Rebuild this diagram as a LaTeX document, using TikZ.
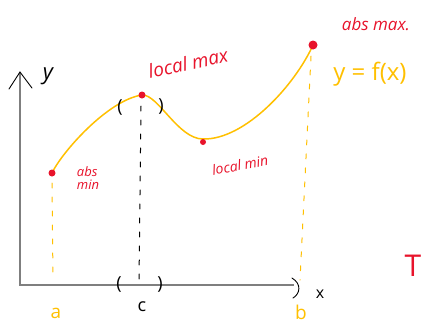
\documentclass[tikz,border=0pt]{standalone}
\usepackage{fontspec}
\setmainfont{Open Sans}
\begin{document}
\begin{tikzpicture}[x=1pt,y=-1pt,
  axis/.style={draw=axisgray,line width=1.3pt},
  ink/.style={draw=black,line width=0.9pt,line cap=round},
  curve/.style={draw=curveor,line width=1.5pt,line cap=round},
  reddot/.style={circle,fill=dotred,inner sep=0pt},
  redtxt/.style={text=dotred,inner sep=0pt},
  orgtxt/.style={text=curveor,inner sep=0pt},
  blktxt/.style={text=black,inner sep=0pt},
  vdash/.style={line width=1pt,dash pattern=on 5pt off 9pt,line cap=round}]
\definecolor{dotred}{HTML}{E8132B}
\definecolor{curveor}{HTML}{FFC000}
\definecolor{axisgray}{HTML}{7F7F7F}
\useasboundingbox (0,0) rectangle (424,327);
\fill[white] (0,0) rectangle (424,327);
% axes
\coordinate (O) at (20,285);
\coordinate (Ytop) at (20,72);
\coordinate (Xend) at (294,285);
\draw[axis] (Ytop) -- (O) -- (Xend);
\draw[ink] (9,89) -- (Ytop) -- (32,88);
\draw[ink] (292,278) .. controls (302,284) and (300,294) .. (293,298);
\node[blktxt,font=\fontsize{22}{22}\selectfont\itshape] (ylab) at (48,76) {y};
\node[blktxt,font=\fontsize{16}{16}\selectfont] (xlab) at (320,294) {x};
% curve
\coordinate (P1) at (52,173);
\coordinate (P2) at (142,95);
\coordinate (P3) at (203,139);
\coordinate (P4) at (313,45);
\draw[curve] (P1) .. controls (62,152) and (108,100) .. (P2)
  .. controls (158,94) and (178,139) .. (P3)
  .. controls (245,140) and (295,85) .. (P4);
% dashed verticals
\coordinate (a0) at (53,280);
\coordinate (c0) at (139,283);
\coordinate (b0) at (300,280);
\draw[vdash,draw=curveor] (52,183) -- (a0);
\draw[vdash,draw=black] (141,106) -- (c0);
\draw[vdash,draw=curveor] (311,56) -- (b0);
% parentheses
\node[blktxt,font=\fontsize{18}{18}\selectfont] (pl1) at (120,107) {(};
\node[blktxt,font=\fontsize{18}{18}\selectfont] (pr1) at (161,106) {)};
\node[blktxt,font=\fontsize{18}{18}\selectfont] (pl2) at (119,284) {(};
\node[blktxt,font=\fontsize{18}{18}\selectfont] (pr2) at (160,284) {)};
% dots
\node[reddot,minimum size=7pt] (amin) at (P1) {};
\node[reddot,minimum size=7pt] (lmax) at (P2) {};
\node[reddot,minimum size=6pt] (lmin) at (203,142) {};
\node[reddot,minimum size=9pt] (amax) at (P4) {};
% labels
\node[redtxt,font=\fontsize{13}{13}\selectfont\itshape,align=left] (tamin) at (88,178) {abs\\min};
\node[redtxt,font=\fontsize{19}{19}\selectfont\itshape,rotate=12] (tlmax) at (188,63) {local max};
\node[redtxt,font=\fontsize{14}{14}\selectfont\itshape,rotate=10] (tlmin) at (240,165) {local min};
\node[redtxt,font=\fontsize{17}{17}\selectfont\itshape] (tamax) at (376,24) {abs max.};
\node[orgtxt,font=\fontsize{24}{24}\selectfont] (tfx) at (370,74) {y = f(x)};
\node[redtxt,font=\fontsize{30}{30}\selectfont] (tT) at (413,266) {T};
\node[orgtxt,font=\fontsize{19}{19}\selectfont] (la) at (56,313) {a};
\node[blktxt,font=\fontsize{18}{18}\selectfont] (lc) at (142,307) {c};
\node[orgtxt,font=\fontsize{19}{19}\selectfont] (lb) at (301,312) {b};
\end{tikzpicture}
\end{document}
